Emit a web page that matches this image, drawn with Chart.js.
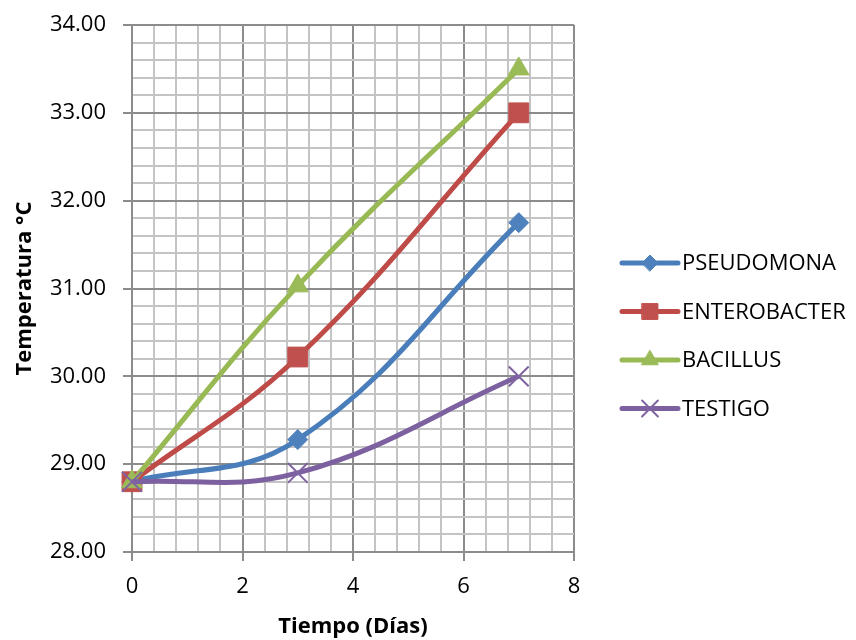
<!DOCTYPE html>
<html>
<head>
<meta charset="utf-8">
<script src="https://cdn.jsdelivr.net/npm/chart.js@4"></script>
<style>
  html, body { margin: 0; padding: 0; background: #fff; }
  #wrap { width: 856px; height: 640px; }
</style>
</head>
<body>
<div id="wrap"><canvas id="c" width="856" height="640"></canvas></div>
<script>
// Temperatura de compostaje por tratamiento
const dias = [0, 3, 7];
const pseudomona = [28.8, 29.28, 31.75];
const enterobacter = [28.8, 30.22, 33.0];
const bacillus = [28.8, 31.03, 33.5];
const testigo = [28.8, 28.9, 30.0];
const nombres = ['PSEUDOMONA', 'ENTEROBACTER', 'BACILLUS', 'TESTIGO'];

const FONT = '"Open Sans", "Liberation Sans", sans-serif';
const MAJOR = '#8c8c8c';
const MINOR = '#c4c4c4';

function serie(name, values, line, fill, style, radius, order) {
  return {
    label: name,
    data: dias.map((d, i) => ({ x: d, y: values[i] })),
    borderColor: line,
    backgroundColor: fill,
    pointBackgroundColor: fill,
    pointBorderColor: fill,
    pointStyle: style,
    pointRadius: radius,
    pointHoverRadius: radius,
    pointBorderWidth: style === 'crossRot' ? 2 : 1,
    borderWidth: 5,
    tension: 0.4,
    clip: false,
    order: order
  };
}

const datasets = [
  serie(nombres[0], pseudomona, '#4a7ebb', '#4f81bd', 'rectRot', 10, 3),
  serie(nombres[1], enterobacter, '#be4b48', '#c0504d', 'rect', 14, 2),
  serie(nombres[2], bacillus, '#98b954', '#9bbb59', 'triangle', 12, 1),
  serie(nombres[3], testigo, '#7d60a0', '#8064a2', 'crossRot', 14, 0)
];

function isMult(v, step) {
  return Math.abs(v / step - Math.round(v / step)) < 1e-6;
}

// Leyenda: línea con marcador y nombre de la serie
const leyenda = {
  id: 'leyenda',
  afterDraw(chart) {
    const ctx = chart.ctx;
    const x0 = 622, x1 = 678, y0 = 263, dy = 48.5;
    datasets.forEach((ds, i) => {
      const y = y0 + i * dy;
      ctx.save();
      ctx.strokeStyle = ds.borderColor;
      ctx.lineWidth = 5;
      ctx.lineCap = 'round';
      ctx.beginPath();
      ctx.moveTo(x0, y);
      ctx.lineTo(x1, y);
      ctx.stroke();
      ctx.fillStyle = ds.pointBackgroundColor;
      ctx.strokeStyle = ds.pointBorderColor;
      ctx.lineWidth = ds.pointBorderWidth;
      Chart.helpers.drawPoint(ctx, {
        pointStyle: ds.pointStyle,
        radius: ds.pointRadius * 0.8,
        borderWidth: ds.pointBorderWidth,
        rotation: 0
      }, (x0 + x1) / 2, y);
      ctx.fillStyle = '#000';
      ctx.font = '22px ' + FONT;
      ctx.textAlign = 'left';
      ctx.textBaseline = 'middle';
      ctx.fillText(ds.label, 682, y + 1);
      ctx.restore();
    });
  }
};

new Chart(document.getElementById('c'), {
  type: 'line',
  data: { datasets },
  plugins: [leyenda],
  options: {
    responsive: false,
    animation: false,
    devicePixelRatio: 1,
    layout: { padding: { left: 0, right: 282, top: 25, bottom: 0 } },
    plugins: {
      legend: { display: false },
      tooltip: { enabled: false }
    },
    scales: {
      x: {
        type: 'linear',
        min: 0,
        max: 8,
        afterFit(scale) { scale.height = 88; },
        ticks: {
          stepSize: 0.4,
          autoSkip: false,
          maxRotation: 0,
          padding: 13,
          color: '#000',
          font: { family: FONT, size: 22 },
          callback: (v) => isMult(v, 2) ? String(Math.round(v)) : ''
        },
        grid: {
          lineWidth: 2,
          tickLength: 9,
          color: (c) => isMult(c.tick.value, 2) ? MAJOR : MINOR,
          tickColor: (c) => isMult(c.tick.value, 2) ? MAJOR : 'rgba(0,0,0,0)'
        },
        border: { color: MAJOR, width: 2 },
        title: {
          display: true,
          text: 'Tiempo (Días)',
          color: '#000',
          font: { family: FONT, size: 22, weight: 'bold' },
          padding: { top: 0, bottom: 0 }
        }
      },
      y: {
        min: 28,
        max: 34,
        afterFit(scale) {
          scale.width = 132;
          scale.paddingTop = 4;
          scale.paddingBottom = 4;
        },
        ticks: {
          stepSize: 0.2,
          autoSkip: false,
          padding: 17,
          color: '#000',
          font: { family: FONT, size: 22 },
          callback: (v) => isMult(v, 1) ? v.toFixed(2) : ''
        },
        grid: {
          lineWidth: 2,
          tickLength: 9,
          color: (c) => isMult(c.tick.value, 1) ? MAJOR : MINOR,
          tickColor: (c) => isMult(c.tick.value, 1) ? MAJOR : 'rgba(0,0,0,0)'
        },
        border: { color: MAJOR, width: 2 },
        title: {
          display: true,
          text: 'Temperatura °C',
          color: '#000',
          font: { family: FONT, size: 22, weight: 'bold' },
          padding: { top: 12, bottom: 0 }
        }
      }
    }
  }
});
</script>
</body>
</html>
